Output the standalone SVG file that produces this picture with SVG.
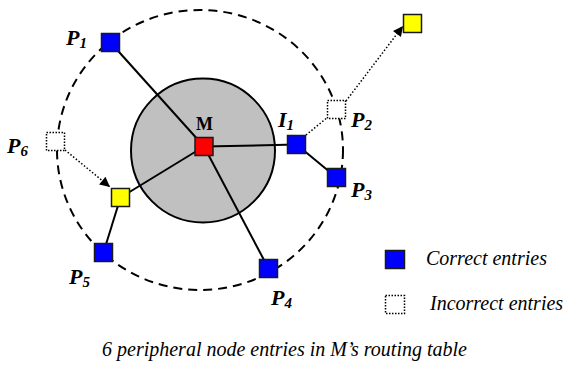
<svg xmlns="http://www.w3.org/2000/svg" width="564" height="365" viewBox="0 0 564 365">
<defs>
<marker id="arr" viewBox="0 0 10 10" refX="10" refY="5" markerWidth="11" markerHeight="10" markerUnits="userSpaceOnUse" orient="auto">
<path d="M0,0 L10,5 L0,10 z" fill="#000"/>
</marker>
</defs>
<style>
.lbl{font-family:"Liberation Serif","Times New Roman",serif;font-weight:bold;font-style:italic;font-size:22px;fill:#000}
.sub{font-size:15px}
.it{font-family:"Liberation Serif","Times New Roman",serif;font-style:italic;font-size:20px;fill:#000}
.sq{stroke:#1a1a1a;stroke-width:1.5}
.blue{fill:#0000ff}
.yel{fill:#ffff00}
.red{fill:#ff0000}
.inc{fill:#fff;stroke:#000;stroke-width:1.5;stroke-dasharray:1.5 1.5}
.solid{stroke:#000;stroke-width:2;fill:none}
.dot{stroke:#000;stroke-width:1.5;stroke-dasharray:1.5 2;fill:none}
</style>
<rect width="564" height="365" fill="#fff"/>
<ellipse id="range" cx="200" cy="150" rx="143" ry="140" fill="none" stroke="#000" stroke-width="2" stroke-dasharray="9 6"/>
<circle id="core" cx="203" cy="150.5" r="72" fill="#c0c0c0" stroke="#000" stroke-width="2"/>
<g id="connectors">
<line class="solid" x1="204" y1="146.5" x2="110.5" y2="42.5"/>
<line class="solid" x1="204" y1="146.5" x2="296.5" y2="144.5"/>
<line class="solid" x1="296.5" y1="144.5" x2="336.5" y2="177.5"/>
<line class="solid" x1="204" y1="146.5" x2="120.5" y2="197.5"/>
<line class="solid" x1="120.5" y1="197.5" x2="103.5" y2="252.5"/>
<line class="solid" x1="204" y1="146.5" x2="268.5" y2="268.5"/>
<line class="dot" stroke-width="2.2" x1="306" y1="135" x2="328" y2="117"/>
<line class="dot" x1="65" y1="150" x2="110" y2="187" marker-end="url(#arr)"/>
<line class="dot" x1="346" y1="101" x2="403" y2="26" marker-end="url(#arr)"/>
</g>
<g id="M"><rect class="sq red" x="195" y="137.5" width="18" height="18"/><text x="196" y="130" font-family="Liberation Serif,Times New Roman,serif" font-weight="bold" font-size="18">M</text></g>
<g id="P1"><rect class="sq blue" x="101.5" y="33.5" width="18" height="18"/><text class="lbl" x="66" y="45">P<tspan class="sub" dy="3">1</tspan></text></g>
<g id="I1"><rect class="sq blue" x="287.5" y="135.5" width="18" height="18"/><text class="lbl" x="278" y="127">I<tspan class="sub" dy="3">1</tspan></text></g>
<g id="P2"><rect class="inc" x="327.5" y="100.5" width="18" height="18"/><text class="lbl" x="351" y="127">P<tspan class="sub" dy="3">2</tspan></text></g>
<g id="P3"><rect class="sq blue" x="327.5" y="168.5" width="18" height="18"/><text class="lbl" x="351" y="197">P<tspan class="sub" dy="3">3</tspan></text></g>
<g id="P4"><rect class="sq blue" x="259.5" y="259.5" width="18" height="18"/><text class="lbl" x="271" y="305">P<tspan class="sub" dy="3">4</tspan></text></g>
<g id="P5"><rect class="sq blue" x="94.5" y="243.5" width="18" height="18"/><text class="lbl" x="69" y="284">P<tspan class="sub" dy="3">5</tspan></text></g>
<g id="P6"><rect class="inc" x="46.5" y="132.5" width="18" height="18"/><text class="lbl" x="7" y="153">P<tspan class="sub" dy="3">6</tspan></text></g>
<g id="Y1"><rect class="sq yel" x="111.5" y="188.5" width="18" height="18"/></g>
<g id="Y2"><rect class="sq yel" x="403.5" y="14.5" width="18" height="18"/></g>
<g id="legend">
<rect class="sq blue" x="385.5" y="250.5" width="19" height="18"/>
<text class="it" x="426" y="265">Correct entries</text>
<rect class="inc" x="385.5" y="295.5" width="19" height="18"/>
<text class="it" x="430" y="310">Incorrect entries</text>
</g>
<text id="caption" class="it" x="102" y="356">6 peripheral node entries in M’s routing table</text>
</svg>
